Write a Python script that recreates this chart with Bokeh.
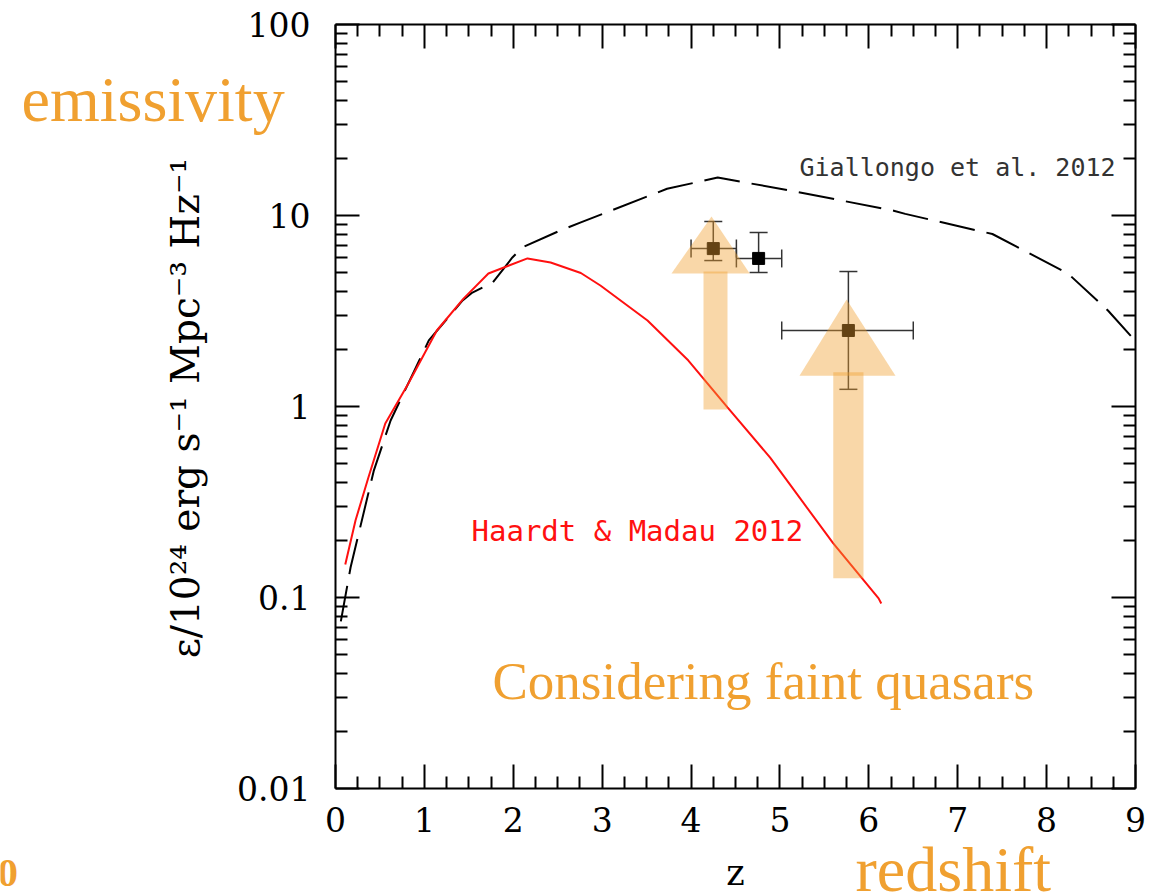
import numpy as np
from bokeh.plotting import figure
from bokeh.models import (LinearAxis, LogAxis, FixedTicker, CustomJSTickFormatter,
                          Label, Range1d)
from bokeh.embed import file_html
from bokeh.resources import INLINE

# ---------------- data ----------------
# Haardt & Madau 2012 emissivity curve
hm_z = [0.11, 0.225, 0.37, 0.56, 0.82, 1.14, 1.44, 1.72, 2.16, 2.42, 2.76,
        2.98, 3.51, 3.97, 4.41, 4.89, 5.12, 5.60, 6.11, 6.14]
hm_eps = [0.149, 0.253, 0.425, 0.815, 1.32, 2.5, 3.67, 4.97, 5.96, 5.67, 5.0,
          4.30, 2.82, 1.74, 0.99, 0.54, 0.386, 0.192, 0.099, 0.093]

# Giallongo et al. 2012 emissivity curve
gi_z = [0.06, 0.17, 0.43, 0.62, 1.05, 1.43, 1.54, 1.77, 1.99, 2.10, 2.53,
        2.76, 3.73, 4.30, 5.12, 6.28, 6.41, 7.39, 8.24, 8.69, 9.0]
gi_eps = [0.075, 0.144, 0.46, 0.845, 2.22, 3.59, 3.95, 4.46, 6.03, 6.8, 8.35,
          9.2, 13.8, 15.8, 13.5, 10.6, 10.2, 8.0, 4.97, 3.18, 2.2]

# data points with error bars
pt_z = [4.25, 4.76, 5.77]
pt_eps = [6.71, 5.96, 2.5]
pt_z_lo = [4.0, 4.51, 5.02]
pt_z_hi = [4.51, 5.02, 6.50]
pt_eps_lo = [5.81, 5.03, 1.23]
pt_eps_hi = [9.3, 8.15, 5.09]

# "faint quasars" lower-limit arrows
arrow_tip_z = [4.23, 5.75]
arrow_tip_eps = [9.88, 3.63]
arrow_base_eps = [4.97, 1.45]
arrow_head_z_lo = [3.78, 5.22]
arrow_head_z_hi = [4.66, 6.30]
arrow_shaft_z_lo = [4.14, 5.60]
arrow_shaft_z_hi = [4.41, 5.94]
arrow_shaft_top = [5.09, 1.51]
arrow_tail = [0.964, 0.126]

x_ticks = [0, 1, 2, 3, 4, 5, 6, 7, 8, 9]
y_ticks = [0.01, 0.1, 1, 10, 100]

# ---------------- layout ----------------
W, H = 1168, 896
L, R, T, B = 335, 33, 24, 108          # plot box position on the canvas
X0, X1 = 0, 9
Y0, Y1 = 0.01, 100
FW, FH = W - L - R, H - T - B
lg0, lg1 = np.log10(Y0), np.log10(Y1)


def px(xp, yp):
    """convert canvas pixel position into data coordinates"""
    xd = X0 + (xp - L) / FW * (X1 - X0)
    ld = lg1 - (yp - T) / FH * (lg1 - lg0)
    return xd, 10 ** ld


cx0, cy_top = px(0, 0)
cx1, cy_bot = px(W, H)

p = figure(width=W, height=H, x_range=Range1d(cx0, cx1), y_range=Range1d(cy_bot, cy_top),
           y_axis_type="log", x_axis_location=None, y_axis_location=None,
           output_backend="svg", toolbar_location=None,
           min_border_left=0, min_border_right=0, min_border_top=0,
           min_border_bottom=0)
p.outline_line_color = None
p.grid.visible = False
p.background_fill_color = "white"
p.border_fill_color = "white"

x_minor = [i * 0.25 for i in range(0, 37) if i % 4 != 0]
y_minor = [m * 10.0 ** k for k in range(-2, 2) for m in range(2, 10)]


def style(ax):
    ax.axis_line_width = 2
    ax.axis_line_color = "black"
    ax.major_tick_in = 24
    ax.major_tick_out = 0
    ax.minor_tick_in = 12
    ax.minor_tick_out = 0
    ax.major_tick_line_width = 2
    ax.minor_tick_line_width = 2
    ax.major_tick_line_color = "black"
    ax.minor_tick_line_color = "black"
    ax.major_label_text_font = "DejaVu Serif"
    ax.major_label_text_font_size = "33px"
    ax.major_label_text_color = "black"


empty = CustomJSTickFormatter(code="return ''")

xa = LinearAxis(ticker=FixedTicker(ticks=x_ticks, minor_ticks=x_minor),
                fixed_location=Y0, bounds=(X0, X1))
ya = LogAxis(ticker=FixedTicker(ticks=y_ticks, minor_ticks=y_minor),
             fixed_location=X0, bounds=(Y0, Y1),
             formatter=CustomJSTickFormatter(code="return String(Number(tick.toPrecision(3)))"))
top = LinearAxis(ticker=FixedTicker(ticks=x_ticks, minor_ticks=x_minor),
                 fixed_location=Y1, bounds=(X0, X1), formatter=empty)
right = LogAxis(ticker=FixedTicker(ticks=y_ticks, minor_ticks=y_minor),
                fixed_location=X1, bounds=(Y0, Y1), formatter=empty)
for ax in (xa, ya, top, right):
    style(ax)
for ax in (top, right):
    ax.major_label_text_font_size = "1px"
    ax.major_label_standoff = 0

xa.major_label_standoff = 18
ya.major_label_standoff = 25
xa.axis_label = "z"
xa.axis_label_text_font = "DejaVu Serif"
xa.axis_label_text_font_size = "35px"
xa.axis_label_text_font_style = "normal"
xa.axis_label_text_color = "black"
xa.axis_label_standoff = 18

p.add_layout(xa, "below")
p.add_layout(ya, "left")
p.add_layout(top, "above")
p.add_layout(right, "right")

# ---------------- curves ----------------
p.line(gi_z, gi_eps, line_color="black", line_width=2, line_dash="36 12")
p.line(hm_z, hm_eps, line_color="#ff1010", line_width=2)

# ---------------- data points ----------------
ebc = "#333333"
p.segment(x0=pt_z, y0=pt_eps_lo, x1=pt_z, y1=pt_eps_hi, line_color=ebc, line_width=1.5)
p.segment(x0=pt_z_lo, y0=pt_eps, x1=pt_z_hi, y1=pt_eps, line_color=ebc, line_width=1.5)
p.scatter(x=pt_z + pt_z, y=pt_eps_lo + pt_eps_hi, marker="dash", size=18,
          line_color=ebc, line_width=1.5)
p.scatter(x=pt_z_lo + pt_z_hi, y=pt_eps + pt_eps, marker="dash", size=18,
          angle=np.pi / 2, line_color=ebc, line_width=1.5)
p.scatter(pt_z, pt_eps, marker="square", size=12, fill_color="black", line_color="black")

# ---------------- arrows ----------------
orange = "#F0A030"
head_xs = [[a, t, b] for a, t, b in zip(arrow_head_z_lo, arrow_tip_z, arrow_head_z_hi)]
head_ys = [[bs, tp, bs] for bs, tp in zip(arrow_base_eps, arrow_tip_eps)]
shaft_xs = [[a, b, b, a] for a, b in zip(arrow_shaft_z_lo, arrow_shaft_z_hi)]
shaft_ys = [[lo, lo, hi, hi] for lo, hi in zip(arrow_tail, arrow_shaft_top)]
p.patches(shaft_xs, shaft_ys, fill_color=orange, fill_alpha=0.42, line_color=None)
p.patches(head_xs, head_ys, fill_color=orange, fill_alpha=0.42, line_color=None)


# ---------------- texts ----------------
BASE_SHIFT = 0.37   # em: observed offset of the rendered alphabetic baseline


def add_label(text, xp, yp, font, size, color, style="normal", angle=0.0, align="left"):
    if angle == 0:
        xd, yd = px(xp, yp - BASE_SHIFT * size)
    else:
        xd, yd = px(xp - BASE_SHIFT * size, yp)
    p.add_layout(Label(x=xd, y=yd, text=text, text_font=font, text_font_size=f"{size}px",
                       text_color=color, text_font_style=style, angle=angle,
                       text_baseline="alphabetic", text_align=align))


add_label("ε/10²⁴ erg  s⁻¹  Mpc⁻³  Hz⁻¹", 199, 389, "DejaVu Serif", 39, "black",
          angle=np.pi / 2, align="center")
add_label("Giallongo et al. 2012", 799, 176, "DejaVu Sans Mono", 25, "#333333")
add_label("Haardt & Madau 2012", 471, 541, "DejaVu Sans Mono", 29, "#ff1010")
add_label("emissivity", 21, 123, "Liberation Serif", 64, orange)
add_label("Considering faint quasars", 492, 700, "Liberation Serif", 53, orange)
add_label("redshift", 855, 893, "Liberation Serif", 64, orange)
add_label("0", -3, 888, "Liberation Serif", 41, orange, "bold")

open("out.html", "w").write(file_html(p, INLINE))
